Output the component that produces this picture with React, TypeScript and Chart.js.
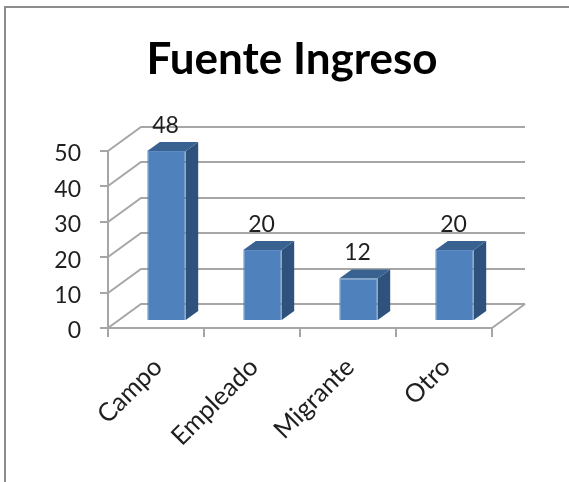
import React, { useEffect, useRef } from "react";
import { Chart, registerables } from "chart.js";

Chart.register(...registerables);

const categories = ["Campo", "Empleado", "Migrante", "Otro"];
const values = [48, 20, 12, 20];
const yMax = 50;
const yStep = 10;
const chartTitle = "Fuente Ingreso";

const FONT = "Lato, 'Open Sans', sans-serif";
const TEXT = "#1f1f1f";
const GRID = "#a6a6a6";
const FRONT = "#4f81bd";
const TOP = "#3a6291";
const SIDE = "#2f527c";
const WALL_DX = 33;
const WALL_DY = -24;
const BAR_DX = 10.5;
const BAR_DY = -7;
const BAR_DEPTH_X = 12.5;
const BAR_DEPTH_Y = -9;

const plugin3d = {
  id: "plugin3d",
  afterLayout(chart: any) {
    chart.titleBlock.left = 0;
    chart.titleBlock.right = 584;
  },
  beforeDraw(chart: any) {
    const { ctx, width, height } = chart;
    ctx.save();
    ctx.strokeStyle = "#8c8c8c";
    ctx.lineWidth = 2;
    ctx.beginPath();
    ctx.moveTo(5, height);
    ctx.lineTo(5, 7);
    ctx.lineTo(width, 7);
    ctx.stroke();
    ctx.restore();
  },
  beforeDatasetsDraw(chart: any) {
    const { ctx, scales } = chart;
    const x = scales.x;
    const y = scales.y;
    ctx.save();
    ctx.strokeStyle = GRID;
    ctx.lineWidth = 2;
    y.ticks.forEach((t: any) => {
      const py = Math.round(y.getPixelForValue(t.value));
      ctx.beginPath();
      ctx.moveTo(x.left, py);
      ctx.lineTo(x.left + WALL_DX, py + WALL_DY);
      ctx.lineTo(x.right + WALL_DX, py + WALL_DY);
      ctx.stroke();
    });
    const p0 = y.getPixelForValue(0);
    ctx.beginPath();
    ctx.moveTo(x.right, p0);
    ctx.lineTo(x.right + WALL_DX, p0 + WALL_DY);
    ctx.stroke();
    ctx.restore();
  },
  beforeDatasetDraw(chart: any, args: any) {
    const { ctx } = chart;
    ctx.save();
    ctx.translate(BAR_DX, BAR_DY);
    args.meta.data.forEach((bar: any) => {
      const l = bar.x - bar.width / 2;
      const r = bar.x + bar.width / 2;
      const t = bar.y;
      const b = bar.base;
      ctx.fillStyle = SIDE;
      ctx.beginPath();
      ctx.moveTo(r, t);
      ctx.lineTo(r + BAR_DEPTH_X, t + BAR_DEPTH_Y);
      ctx.lineTo(r + BAR_DEPTH_X, b + BAR_DEPTH_Y);
      ctx.lineTo(r, b);
      ctx.closePath();
      ctx.fill();
      ctx.fillStyle = TOP;
      ctx.beginPath();
      ctx.moveTo(l, t);
      ctx.lineTo(l + BAR_DEPTH_X, t + BAR_DEPTH_Y);
      ctx.lineTo(r + BAR_DEPTH_X, t + BAR_DEPTH_Y);
      ctx.lineTo(r, t);
      ctx.closePath();
      ctx.fill();
    });
  },
  afterDatasetDraw(chart: any) {
    chart.ctx.restore();
  },
  afterDatasetsDraw(chart: any) {
    const { ctx, data } = chart;
    const meta = chart.getDatasetMeta(0);
    ctx.save();
    ctx.font = `23px ${FONT}`;
    ctx.fillStyle = TEXT;
    ctx.textAlign = "center";
    ctx.textBaseline = "middle";
    meta.data.forEach((bar: any, i: number) => {
      ctx.fillText(String(data.datasets[0].data[i]), bar.x + BAR_DX - 1, bar.y - 32.5);
    });
    ctx.restore();
  },
};

export default function App() {
  const ref = useRef<HTMLCanvasElement>(null);
  useEffect(() => {
    const chart = new Chart(ref.current!, {
      type: "bar",
      data: {
        labels: categories,
        datasets: [
          {
            data: values,
            backgroundColor: FRONT,
            borderColor: "#5c8cc6",
            borderWidth: 1,
            barPercentage: 0.4,
            categoryPercentage: 1,
          },
        ],
      },
      options: {
        responsive: false,
        animation: false,
        layout: { padding: { left: 0, right: 77, top: 0, bottom: 0 } },
        plugins: {
          legend: { display: false },
          tooltip: { enabled: false },
          title: {
            display: true,
            text: chartTitle,
            color: "#000000",
            font: { family: FONT, size: 44, weight: "bold" },
            padding: { top: 33, bottom: 65 },
          },
        },
        scales: {
          x: {
            afterFit: (s: any) => {
              s.height = 154;
            },
            border: { color: GRID, width: 2 },
            grid: { display: true, drawOnChartArea: false, color: GRID, lineWidth: 2, tickLength: 9 },
            ticks: {
              color: TEXT,
              font: { family: FONT, size: 25.5 },
              minRotation: 45,
              maxRotation: 45,
              autoSkip: false,
              padding: 15,
              labelOffset: 2,
            },
          },
          y: {
            min: 0,
            max: yMax,
            afterFit: (s: any) => {
              s.width = 108;
            },
            border: { color: GRID, width: 2 },
            grid: { display: true, drawOnChartArea: false, color: GRID, lineWidth: 2, tickLength: 8 },
            ticks: {
              stepSize: yStep,
              color: TEXT,
              font: { family: FONT, size: 23 },
              padding: 19,
              labelOffset: 3,
            },
          },
        },
      },
      plugins: [plugin3d],
    });
    return () => chart.destroy();
  }, []);
  return (
    <div style={{ position: "absolute", left: 0, top: 0, background: "#fff" }}>
      <canvas ref={ref} width={569} height={482} style={{ display: "block" }} />
    </div>
  );
}
